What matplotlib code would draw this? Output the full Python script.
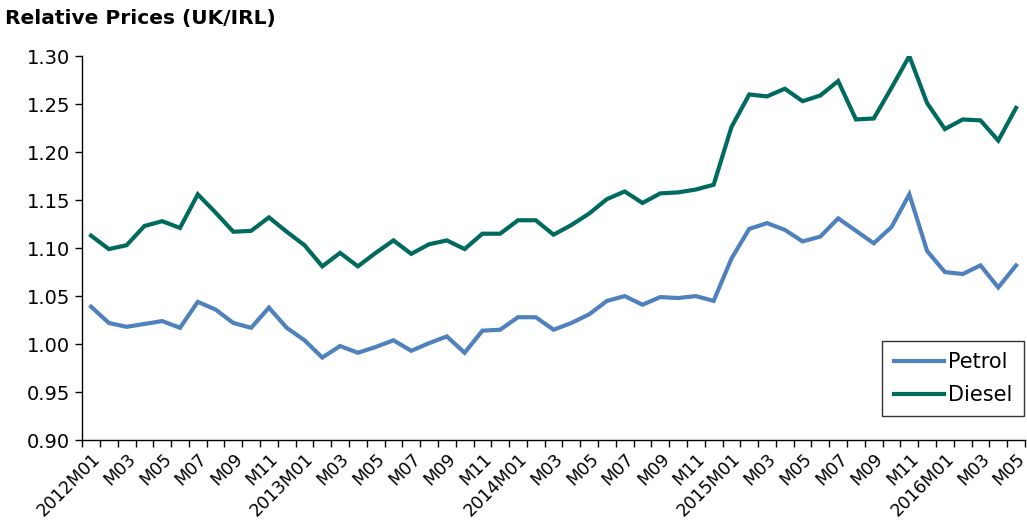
import matplotlib
matplotlib.use("Agg")
import matplotlib.pyplot as plt
import numpy as np

# 数据：2012M01 - 2016M05 月度相对价格 (UK/IRL)
months = []
for year in range(2012, 2017):
    for m in range(1, 13):
        if year == 2016 and m > 5:
            break
        months.append(f"{year}M{m:02d}" if m == 1 else f"M{m:02d}")

petrol = [1.039, 1.022, 1.018, 1.021, 1.024, 1.017, 1.044, 1.036, 1.022, 1.017,
          1.038, 1.017, 1.004, 0.986, 0.998, 0.991, 0.997, 1.004, 0.993, 1.001,
          1.008, 0.991, 1.014, 1.015, 1.028, 1.028, 1.015, 1.022, 1.031, 1.045,
          1.050, 1.041, 1.049, 1.048, 1.050, 1.045, 1.089, 1.120, 1.126, 1.119,
          1.107, 1.112, 1.131, 1.118, 1.105, 1.122, 1.156, 1.097, 1.075, 1.073,
          1.082, 1.059, 1.082]

diesel = [1.113, 1.099, 1.103, 1.123, 1.128, 1.121, 1.156, 1.137, 1.117, 1.118,
          1.132, 1.117, 1.103, 1.081, 1.095, 1.081, 1.095, 1.108, 1.094, 1.104,
          1.108, 1.099, 1.115, 1.115, 1.129, 1.129, 1.114, 1.124, 1.136, 1.151,
          1.159, 1.147, 1.157, 1.158, 1.161, 1.166, 1.226, 1.260, 1.258, 1.266,
          1.253, 1.259, 1.274, 1.234, 1.235, 1.267, 1.300, 1.251, 1.224, 1.234,
          1.233, 1.212, 1.246]

petrol_color = '#4f81bd'
diesel_color = '#006a5f'

fig = plt.figure(figsize=(10.27, 5.29), dpi=100)
ax = fig.add_axes([0.08, 0.168, 0.918, 0.726])

x = np.arange(len(months))
ax.plot(x, petrol, color=petrol_color, lw=3, label='Petrol', solid_joinstyle='miter')
ax.plot(x, diesel, color=diesel_color, lw=3, label='Diesel', solid_joinstyle='miter')

# 坐标轴设置
ax.set_xlim(-0.5, len(months) - 0.5)
ax.set_ylim(0.90, 1.30)
ax.set_yticks(np.arange(0.90, 1.301, 0.05))
ax.set_yticklabels([f"{v:.2f}" for v in np.arange(0.90, 1.301, 0.05)], fontsize=14)

ax.set_xticks(x[::2])
ax.set_xticklabels(months[::2], rotation=45, ha='right', rotation_mode='anchor', fontsize=12.5)
ax.set_xticks(np.arange(-0.5, len(months), 1), minor=True)
ax.tick_params(axis='x', which='major', length=0, pad=7)
ax.tick_params(axis='x', which='minor', length=5, width=1, direction='out')
ax.tick_params(axis='y', length=5, width=1, direction='out')

for s in ['top', 'right']:
    ax.spines[s].set_visible(False)
ax.spines['left'].set_linewidth(1)
ax.spines['bottom'].set_linewidth(1)

leg = ax.legend(loc='lower right', bbox_to_anchor=(1.01, 0.035), fontsize=15,
                frameon=True, fancybox=False, edgecolor='black', handlelength=2.4,
                handletextpad=0.2, borderpad=0.55, labelspacing=0.6)
leg.get_frame().set_linewidth(1)

fig.text(0.005, 0.965, 'Relative Prices (UK/IRL)', fontsize=14.5, fontweight='bold',
         va='center', ha='left')

fig.savefig('out.png', dpi=100)
